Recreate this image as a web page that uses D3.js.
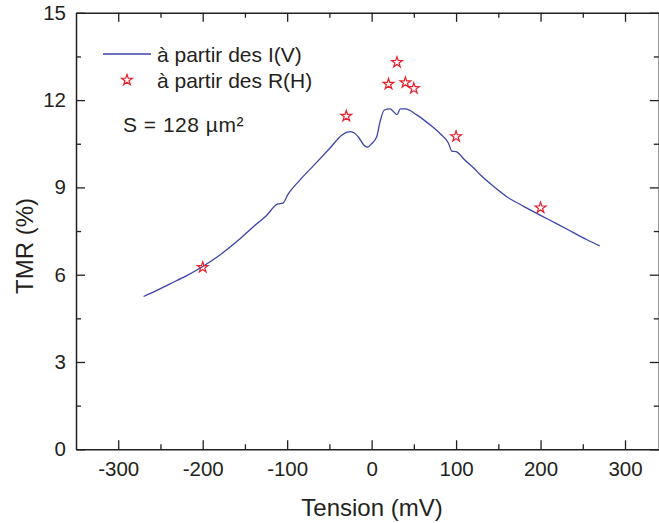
<!DOCTYPE html>
<html>
<head>
<meta charset="utf-8">
<script src="https://cdn.jsdelivr.net/npm/d3@7"></script>
<style>
  html, body { margin: 0; padding: 0; background: #fff; }
  svg { display: block; font-family: "Liberation Sans", Arial, sans-serif; }
</style>
</head>
<body>
<svg id="chart" width="659" height="523"></svg>
<script>
// I(V) derived curve: tension (mV) and TMR (%)
const ivTension = [-270, -255, -240, -220, -200, -180, -160, -140, -125, -111, -105, -99, -85, -69, -50, -35, -29, -25, -20, -16, -8, -5, 0, 6, 10, 15, 22, 26, 30, 34, 40, 53, 67, 81, 91, 95, 100, 110, 122, 128, 145, 160, 180, 200, 220, 240, 255, 270];
const ivTMR     = [5.25, 5.45, 5.67, 5.95, 6.28, 6.67, 7.13, 7.65, 8.02, 8.43, 8.46, 8.76, 9.25, 9.74, 10.33, 10.8, 10.9, 10.92, 10.86, 10.74, 10.42, 10.38, 10.5, 10.74, 11.26, 11.66, 11.7, 11.6, 11.5, 11.7, 11.7, 11.5, 11.2, 10.85, 10.52, 10.25, 10.23, 9.95, 9.63, 9.45, 9.02, 8.68, 8.35, 8.04, 7.74, 7.43, 7.2, 6.99];
// R(H) derived points
const rhTension = [-200, -30, 20, 30, 40, 50, 100, 200];
const rhTMR     = [6.25, 11.45, 12.55, 13.3, 12.6, 12.4, 10.75, 8.3];
// tick values
const xMajorTicks = [-300, -200, -100, 0, 100, 200, 300];
const xMinorTicks = [-250, -150, -50, 50, 150, 250];
const yMajorTicks = [0, 3, 6, 9, 12, 15];
const yMinorTicks = [1.5, 4.5, 7.5, 10.5, 13.5];
const legendLabels = ["à partir des I(V)", "à partir des R(H)"];
const areaLabel = "S = 128 µm²";
const xTitle = "Tension (mV)";
const yTitle = "TMR (%)";

const svg = d3.select("#chart");
const ink = "#231f20";
const blue = "#3c44a6";
const red = "#e8202e";
const fontTick = 20.5;

const x = d3.scaleLinear().domain([-350, 340]).range([76, 658.8]);
const y = d3.scaleLinear().domain([0, 15]).range([449.3, 12.8]);

const fmt = d => String(d);

function styleAxis(g) {
  g.selectAll(".domain").attr("stroke", ink).attr("stroke-width", 1.5);
  g.selectAll(".tick line").attr("stroke", ink).attr("stroke-width", 1.3);
  g.selectAll(".tick text").attr("fill", ink).attr("font-size", fontTick)
    .attr("font-family", "Liberation Sans, Arial, sans-serif");
}

function addMinor(g, axisFn, scale, ticks) {
  const m = g.append("g").call(axisFn(scale).tickValues(ticks).tickSize(-5).tickFormat(() => "").tickSizeOuter(0));
  m.select(".domain").remove();
  m.selectAll(".tick text").remove();
}

// bottom axis
const gB = svg.append("g").attr("transform", `translate(0,${y(0)})`);
gB.call(d3.axisBottom(x).tickValues(xMajorTicks).tickSize(-9).tickPadding(12).tickSizeOuter(0).tickFormat(fmt));
addMinor(gB, d3.axisBottom, x, xMinorTicks);
styleAxis(gB);

// top axis
const gT = svg.append("g").attr("transform", `translate(0,${y(15)})`);
gT.call(d3.axisTop(x).tickValues(xMajorTicks).tickSize(-9).tickFormat(() => "").tickSizeOuter(0));
addMinor(gT, d3.axisTop, x, xMinorTicks);
styleAxis(gT);

// left axis
const gL = svg.append("g").attr("transform", `translate(${x(-350)},0)`);
gL.call(d3.axisLeft(y).tickValues(yMajorTicks).tickSize(-9).tickPadding(10).tickSizeOuter(0).tickFormat(fmt));
addMinor(gL, d3.axisLeft, y, yMinorTicks);
styleAxis(gL);

// right axis
const gR = svg.append("g").attr("transform", `translate(${x(340)},0)`);
gR.call(d3.axisRight(y).tickValues(yMajorTicks).tickSize(-9).tickFormat(() => "").tickSizeOuter(0));
addMinor(gR, d3.axisRight, y, yMinorTicks);
styleAxis(gR);

// curve
const ivData = ivTension.map((v, i) => ({v, t: ivTMR[i]}));
svg.append("path").datum(ivData)
  .attr("fill", "none").attr("stroke", blue).attr("stroke-width", 1.3)
  .attr("stroke-linejoin", "round")
  .attr("d", d3.line().curve(d3.curveMonotoneX).x(d => x(d.v)).y(d => y(d.t)));

// stars
const star = d3.symbol().type(d3.symbolStar).size(36);
const rhData = rhTension.map((v, i) => ({v, t: rhTMR[i]}));
svg.append("g").selectAll("path").data(rhData).join("path")
  .attr("transform", d => `translate(${x(d.v)},${y(d.t)})`)
  .attr("d", star)
  .attr("fill", "none").attr("stroke", red).attr("stroke-width", 1.2);

// legend
const lg = svg.append("g");
lg.append("line").attr("x1", 103).attr("x2", 151).attr("y1", 54).attr("y2", 54)
  .attr("stroke", blue).attr("stroke-width", 1.3);
lg.append("path").attr("transform", "translate(127,80)").attr("d", star)
  .attr("fill", "none").attr("stroke", red).attr("stroke-width", 1.2);
lg.selectAll("text.leg").data(legendLabels).join("text").attr("class", "leg")
  .attr("x", 157).attr("y", (d, i) => 61.5 + i * 26.5)
  .attr("fill", ink).attr("font-size", 21).text(d => d);
lg.append("text").attr("x", 123).attr("y", 132)
  .attr("fill", ink).attr("font-size", 21).attr("letter-spacing", 0.5).text(areaLabel);

// axis titles
svg.append("text").attr("x", 372).attr("y", 516).attr("text-anchor", "middle")
  .attr("fill", ink).attr("font-size", 24).text(xTitle);
svg.append("text").attr("transform", "translate(33,246) rotate(-90)").attr("text-anchor", "middle")
  .attr("fill", ink).attr("font-size", 24).text(yTitle);
</script>
</body>
</html>
